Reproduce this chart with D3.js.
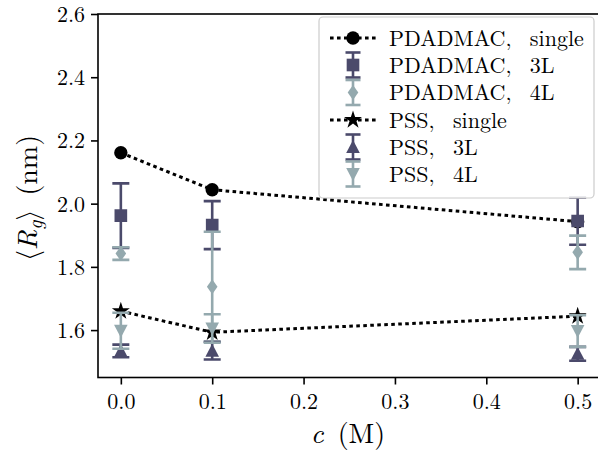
<!DOCTYPE html>
<html>
<head>
<meta charset="utf-8">
<script src="https://cdn.jsdelivr.net/npm/d3@7"></script>
<style>
  html, body { margin: 0; padding: 0; background: #fff; }
  svg { display: block; }
</style>
</head>
<body>
<svg id="chart" width="598" height="455"></svg>
<script>
// ---- data ----
const concentrations = [0.0, 0.1, 0.5];
const pdadmacSingle = [2.161, 2.044, 1.943];
const pdadmac3L = [1.962, 1.932, 1.945];
const pdadmac3LErr = [0.102, 0.076, 0.075];
const pdadmac4L = [1.842, 1.737, 1.846];
const pdadmac4LErr = [0.020, 0.174, 0.053];
const pssSingle = [1.660, 1.593, 1.644];
const pss3L = [1.534, 1.535, 1.525];
const pss3LErr = [0.020, 0.028, 0.022];
const pss4L = [1.598, 1.605, 1.597];
const pss4LErr = [0.057, 0.045, 0.050];
const xTicks = [0.0, 0.1, 0.2, 0.3, 0.4, 0.5];
const yTicks = [1.6, 1.8, 2.0, 2.2, 2.4, 2.6];
const legendLabels = ["PDADMAC,\u00a0 single", "PDADMAC,\u00a0 3L", "PDADMAC,\u00a0 4L",
                      "PSS,\u00a0 single", "PSS,\u00a0 3L", "PSS,\u00a0 4L"];

const FONT = "'Latin Modern Roman', 'Liberation Serif', serif";
const DARK = "#4b4a6b";
const LIGHT = "#94a9ae";

const svg = d3.select("#chart").attr("font-family", FONT);
const M = {left: 98, top: 14, right: 600.5, bottom: 377.5};

const x = d3.scaleLinear().domain([-0.025, 0.525]).range([M.left, M.right]);
const y = d3.scaleLinear().domain([1.45, 2.6]).range([M.bottom, M.top]);

svg.append("defs").append("clipPath").attr("id", "clip")
  .append("rect").attr("x", M.left).attr("y", M.top)
  .attr("width", M.right - M.left).attr("height", M.bottom - M.top);

const plot = svg.append("g").attr("clip-path", "url(#clip)");

const sym = {
  circle: d3.symbol().type(d3.symbolCircle).size(140)(),
  square: d3.symbol().type(d3.symbolSquare).size(160)(),
  star: d3.symbol().type(d3.symbolStar).size(100)(),
  diamond: "M0,-7.5L5.3,0L0,7.5L-5.3,0Z",
  triUp: "M0,-7L6.8,6L-6.8,6Z",
  triDown: "M0,7L6.8,-6L-6.8,-6Z"
};

function singleSeries(g, vals, shape) {
  const pts = concentrations.map((c, i) => [x(c), y(vals[i])]);
  g.append("path").attr("d", d3.line()(pts))
    .attr("fill", "none").attr("stroke", "#000").attr("stroke-width", 3)
    .attr("stroke-dasharray", "3.6,3.4");
  g.selectAll(null).data(pts).enter().append("path")
    .attr("d", shape).attr("transform", d => `translate(${d[0]},${d[1]})`)
    .attr("fill", "#000");
}

function errSeries(g, vals, errs, shape, color) {
  const cap = 8.5;
  concentrations.forEach((c, i) => {
    const cx = x(c), y1 = y(vals[i] + errs[i]), y0 = y(vals[i] - errs[i]);
    g.append("line").attr("x1", cx).attr("x2", cx).attr("y1", y1).attr("y2", y0)
      .attr("stroke", color).attr("stroke-width", 2.6);
    [y1, y0].forEach(yy => g.append("line")
      .attr("x1", cx - cap).attr("x2", cx + cap).attr("y1", yy).attr("y2", yy)
      .attr("stroke", color).attr("stroke-width", 2.6));
  });
  g.selectAll(null).data(concentrations).enter().append("path")
    .attr("d", shape)
    .attr("transform", (c, i) => `translate(${x(c)},${y(vals[i])})`)
    .attr("fill", color);
}

singleSeries(plot.append("g"), pdadmacSingle, sym.circle);
errSeries(plot.append("g"), pdadmac3L, pdadmac3LErr, sym.square, DARK);
errSeries(plot.append("g"), pdadmac4L, pdadmac4LErr, sym.diamond, LIGHT);
singleSeries(plot.append("g"), pssSingle, sym.star);
errSeries(plot.append("g"), pss3L, pss3LErr, sym.triUp, DARK);
errSeries(plot.append("g"), pss4L, pss4LErr, sym.triDown, LIGHT);

// axes
const xAxis = d3.axisBottom(x).tickValues(xTicks).tickFormat(d3.format(".1f"))
  .tickSizeInner(7).tickSizeOuter(0).tickPadding(6);
const yAxis = d3.axisLeft(y).tickValues(yTicks).tickFormat(d3.format(".1f"))
  .tickSizeInner(7).tickSizeOuter(0).tickPadding(6);

const gx = svg.append("g").attr("transform", `translate(0,${M.bottom})`).call(xAxis);
const gy = svg.append("g").attr("transform", `translate(${M.left},0)`).call(yAxis);
[gx, gy].forEach(g => {
  g.attr("font-family", FONT).attr("font-size", 22);
  g.select(".domain").remove();
  g.selectAll(".tick line").attr("stroke", "#000").attr("stroke-width", 1.6);
  g.selectAll(".tick text").attr("font-family", FONT).attr("font-size", 22).attr("fill", "#000");
});
gx.selectAll(".tick text").attr("dy", null).attr("y", 31);
gy.selectAll(".tick text").attr("dy", "0.34em").attr("x", -13);

// spines
svg.append("rect").attr("x", M.left).attr("y", M.top)
  .attr("width", M.right - M.left).attr("height", M.bottom - M.top)
  .attr("fill", "none").attr("stroke", "#000").attr("stroke-width", 1.6);

// axis labels
const xl = svg.append("text").attr("x", 348).attr("y", 443)
  .attr("text-anchor", "middle").attr("font-size", 28).attr("font-family", FONT);
xl.append("tspan").attr("font-style", "italic").text("c");
xl.append("tspan").text("\u00a0(M)");

const yl = svg.append("text").attr("transform", "translate(37,198) rotate(-90)")
  .attr("text-anchor", "middle").attr("font-size", 28).attr("font-family", FONT);
yl.append("tspan").attr("font-family", "'Latin Modern Math', " + FONT).text("\u27e8");
yl.append("tspan").attr("font-style", "italic").text("R");
yl.append("tspan").attr("font-style", "italic").attr("font-size", 20).attr("dy", 5).text("g");
yl.append("tspan").attr("dy", -5).attr("font-family", "'Latin Modern Math', " + FONT).text("\u27e9");
yl.append("tspan").text("\u00a0(nm)");

// legend
const L = {x: 319, y: 17, w: 275, h: 181};
const lg = svg.append("g");
lg.append("rect").attr("x", L.x).attr("y", L.y).attr("width", L.w).attr("height", L.h)
  .attr("rx", 4).attr("fill", "#fff").attr("fill-opacity", 0.88)
  .attr("stroke", "#cccccc").attr("stroke-width", 1.2);

const rowY = [38, 65, 92.5, 120, 147, 174];
const handleX = 353;
const legendSpecs = [
  {type: "single", shape: sym.circle, color: "#000"},
  {type: "err", shape: sym.square, color: DARK},
  {type: "err", shape: sym.diamond, color: LIGHT},
  {type: "single", shape: sym.star, color: "#000"},
  {type: "err", shape: sym.triUp, color: DARK},
  {type: "err", shape: sym.triDown, color: LIGHT}
];
legendSpecs.forEach((s, i) => {
  const ry = rowY[i];
  const g = lg.append("g");
  if (s.type === "single") {
    g.append("line").attr("x1", 330).attr("x2", 377).attr("y1", ry).attr("y2", ry)
      .attr("stroke", "#000").attr("stroke-width", 3).attr("stroke-dasharray", "3.6,3.4");
  } else {
    const h = 12.5, cap = 7.5;
    g.append("line").attr("x1", handleX).attr("x2", handleX).attr("y1", ry - h).attr("y2", ry + h)
      .attr("stroke", s.color).attr("stroke-width", 2.6);
    [ry - h, ry + h].forEach(yy => g.append("line").attr("x1", handleX - cap).attr("x2", handleX + cap)
      .attr("y1", yy).attr("y2", yy).attr("stroke", s.color).attr("stroke-width", 2.6));
  }
  g.append("path").attr("d", s.shape).attr("transform", `translate(${handleX},${ry})`).attr("fill", s.color);
  lg.append("text").attr("x", 389).attr("y", ry).attr("dy", "0.35em")
    .attr("font-family", FONT).attr("font-size", 22).text(legendLabels[i]);
});
</script>
</body>
</html>
